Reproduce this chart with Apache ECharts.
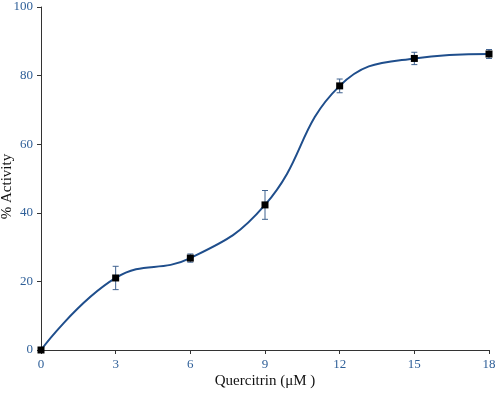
<!DOCTYPE html>
<html>
<head>
<meta charset="utf-8">
<script src="https://cdn.jsdelivr.net/npm/echarts@6/dist/echarts.min.js"></script>
<style>html,body{margin:0;padding:0;background:#fff}#c{width:498px;height:396px}</style>
</head>
<body>
<div id="c"></div>
<script>
const concentrations = [0, 3, 6, 9, 12, 15, 18];
const activity = [0, 21.0, 26.8, 42.3, 77.0, 85.0, 86.3];
const errors = [0, 3.4, 1.2, 4.2, 2.0, 1.8, 1.3];
const xTicks = [0, 3, 6, 9, 12, 15, 18];
const yTicks = [0, 20, 40, 60, 80, 100];

const lineData = concentrations.map((x, i) => [x, activity[i]]);
const errData = concentrations.map((x, i) => [x, activity[i] - errors[i], activity[i] + errors[i]]);

const chart = echarts.init(document.getElementById('c'), null, {renderer: 'canvas'});
const labelColor = '#2e5f98';
chart.setOption({
  animation: false,
  grid: {left: 41, right: 9, top: 7, bottom: 46, containLabel: false, outerBoundsMode: 'none'},
  xAxis: {
    type: 'value', min: 0, max: 18, interval: 3,
    name: 'Quercitrin (μM )', nameLocation: 'middle', nameGap: 24, nameMoveOverlap: false,
    nameTextStyle: {fontFamily: 'Liberation Serif', fontSize: 15, color: '#111'},
    axisLine: {lineStyle: {color: '#333', width: 1}},
    axisTick: {show: true, length: 4, lineStyle: {color: '#333'}},
    axisLabel: {fontFamily: 'Liberation Serif', fontSize: 13, color: labelColor, margin: 8},
    splitLine: {show: false}
  },
  yAxis: {
    type: 'value', min: 0, max: 100, interval: 20,
    name: '% Activity', nameLocation: 'middle', nameGap: 26, nameRotate: 90, nameMoveOverlap: false,
    nameTextStyle: {fontFamily: 'Liberation Serif', fontSize: 15, color: '#111', padding: [0, 16, 0, 0]},
    axisLine: {show: true, lineStyle: {color: '#333', width: 1}},
    axisTick: {show: true, length: 4, lineStyle: {color: '#333'}},
    axisLabel: {fontFamily: 'Liberation Serif', fontSize: 13, color: labelColor, margin: 8},
    splitLine: {show: false}
  },
  series: [
    {
      type: 'line', data: lineData, smooth: 0.45,
      lineStyle: {color: '#1f4e8c', width: 2},
      symbol: 'rect', symbolSize: 7,
      itemStyle: {color: '#000'}, z: 3
    },
    {
      type: 'custom', data: errData, z: 2,
      renderItem: function (params, api) {
        const x = api.value(0);
        const lo = api.coord([x, api.value(1)]);
        const hi = api.coord([x, api.value(2)]);
        const w = 3;
        const st = {stroke: '#3f628f', lineWidth: 1};
        return {type: 'group', children: [
          {type: 'line', shape: {x1: lo[0], y1: lo[1], x2: hi[0], y2: hi[1]}, style: st},
          {type: 'line', shape: {x1: lo[0]-w, y1: lo[1], x2: lo[0]+w, y2: lo[1]}, style: st},
          {type: 'line', shape: {x1: hi[0]-w, y1: hi[1], x2: hi[0]+w, y2: hi[1]}, style: st}
        ]};
      }
    }
  ]
});
</script>
</body>
</html>
